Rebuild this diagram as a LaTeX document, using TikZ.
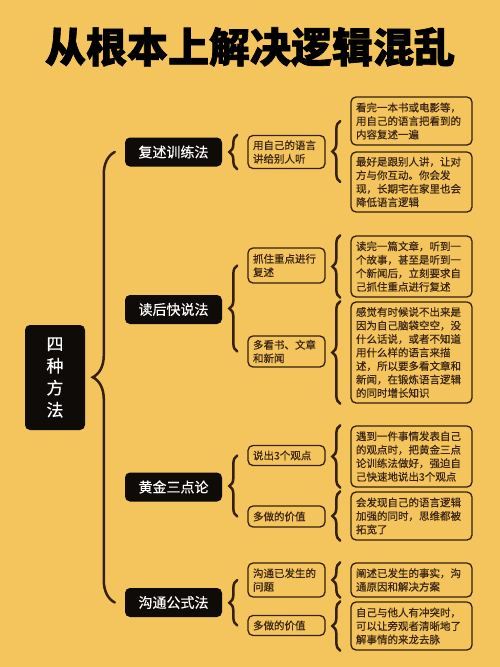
\documentclass[tikz,border=0pt]{standalone}
\usepackage{fontspec}
\setmainfont{Noto Sans CJK SC}[FakeBold=0.4]
\newfontfamily\headfont{Noto Sans CJK SC}[BoldFeatures={FakeBold=1.6}]
\usepackage{xcolor}
\usepackage{tikz}
\usetikzlibrary{decorations.pathreplacing}
\definecolor{paper}{HTML}{F3C55C}
\definecolor{ink}{HTML}{0E0B09}
\definecolor{umber}{HTML}{35200F}
\definecolor{note}{HTML}{3A2415}

\begin{document}
\begin{tikzpicture}[
  x=1pt, y=-1pt,
  root/.style={fill=ink, rounded corners=5pt, text=white, align=center, font=\fontsize{17}{22}\selectfont, minimum width=60pt, minimum height=105pt},
  method/.style={fill=ink, rounded corners=5pt, text=white, font=\fontsize{14}{16}\selectfont, minimum width=97pt, minimum height=29pt},
  hint/.style={draw=umber, line width=1.3pt, rounded corners=5pt, fill=paper, text=note, align=left, font=\fontsize{10.5}{13.5}\selectfont, inner xsep=5pt, inner ysep=3pt, text width=67pt},
  detail/.style={hint, inner xsep=5pt, text width=111pt},
  brc/.style={decorate, decoration={brace, amplitude=8pt}, draw=umber, line width=2.5pt, line cap=round},
  bigbrc/.style={brc, decoration={brace, amplitude=22pt}}
]
\fill[paper] (0,0) rectangle (500,667);
\useasboundingbox (0,0) rectangle (500,667);

% title
\node[font=\fontsize{41}{44}\selectfont\headfont\bfseries, text=black] (title) at (250,47) {从根本上解决逻辑混乱};

% root and the four methods
\node[root]   (root) at (55,377.5) {四\\种\\方\\法};
\node[method] (fs)   at (173.5,152)   {复述训练法};
\node[method] (dh)   at (173.5,309.5) {读后快说法};
\node[method] (hj)   at (173.5,487)   {黄金三点论};
\node[method] (gt)   at (173.5,602.5) {沟通公式法};

% second level
\node[hint, minimum height=33pt] (fsA) at (286.5,152)   {用自己的语言\\讲给别人听};
\node[hint, minimum height=35pt] (dhA) at (286.5,265.5) {抓住重点进行\\复述};
\node[hint, minimum height=31pt] (dhB) at (286.5,351.5) {多看书、文章\\和新闻};
\node[hint, minimum height=20pt] (hjA) at (286.5,455.5) {说出3个观点};
\node[hint, minimum height=21pt] (hjB) at (286.5,516.5) {多做的价值};
\node[hint, minimum height=34pt] (gtA) at (286.5,580)   {沟通已发生的\\问题};
\node[hint, minimum height=20pt] (gtB) at (286.5,625.5) {多做的价值};

% third level
\node[detail, minimum height=48pt]  (fs1) at (411.5,121)   {看完一本书或电影等，\\用自己的语言把看到的\\内容复述一遍};
\node[detail, minimum height=60pt]  (fs2) at (411.5,182)   {最好是跟别人讲，让对\\方与你互动。你会发\\现，长期宅在家里也会\\降低语言逻辑};
\node[detail, minimum height=61pt]  (dh1) at (411.5,266.5) {读完一篇文章，听到一\\个故事，甚至是听到一\\个新闻后，立刻要求自\\己抓住重点进行复述};
\node[detail, minimum height=101pt] (dh2) at (411.5,352.5) {感觉有时候说不出来是\\因为自己脑袋空空，没\\什么话说，或者不知道\\用什么样的语言来描\\述，所以要多看文章和\\新闻，在锻炼语言逻辑\\的同时增长知识};
\node[detail, minimum height=61pt]  (hj1) at (411.5,456.5) {遇到一件事情发表自己\\的观点时，把黄金三点\\论训练法做好，强迫自\\己快速地说出3个观点};
\node[detail, minimum height=48pt]  (hj2) at (411.5,516)   {会发现自己的语言逻辑\\加强的同时，思维都被\\拓宽了};
\node[detail, minimum height=34pt]  (gt1) at (411.5,580)   {阐述已发生的事实，沟\\通原因和解决方案};
\node[detail, minimum height=48pt]  (gt2) at (411.5,626)   {自己与他人有冲突时，\\可以让旁观者清晰地了\\解事情的来龙去脉};

% braces
\draw[bigbrc] ([xshift=-10pt]gt.west) -- ([xshift=-10pt]fs.west);
\draw[brc] ([xshift=-10pt]fsA.south west) -- ([xshift=-10pt]fsA.north west);
\draw[brc] ([xshift=-10pt]dhB.west) -- ([xshift=-10pt]dhA.west);
\draw[brc] ([xshift=-10pt]hjB.west) -- ([xshift=-10pt]hjA.west);
\draw[brc] ([xshift=-10pt]gtB.west) -- ([xshift=-10pt]gtA.west);
\draw[brc] ([xshift=-10pt]fs2.west) -- ([xshift=-10pt]fs1.west);
\draw[brc] ([xshift=-10pt]dh1.south west) -- ([xshift=-10pt]dh1.north west);
\draw[brc] ([xshift=-10pt]dh2.south west) -- ([xshift=-10pt]dh2.north west);
\draw[brc] ([xshift=-10pt]hj1.south west) -- ([xshift=-10pt]hj1.north west);
\draw[brc] ([xshift=-10pt]hj2.south west) -- ([xshift=-10pt]hj2.north west);
\draw[brc] ([xshift=-10pt]gt1.south west) -- ([xshift=-10pt]gt1.north west);
\draw[brc] ([xshift=-10pt]gt2.south west) -- ([xshift=-10pt]gt2.north west);
\end{tikzpicture}
\end{document}
